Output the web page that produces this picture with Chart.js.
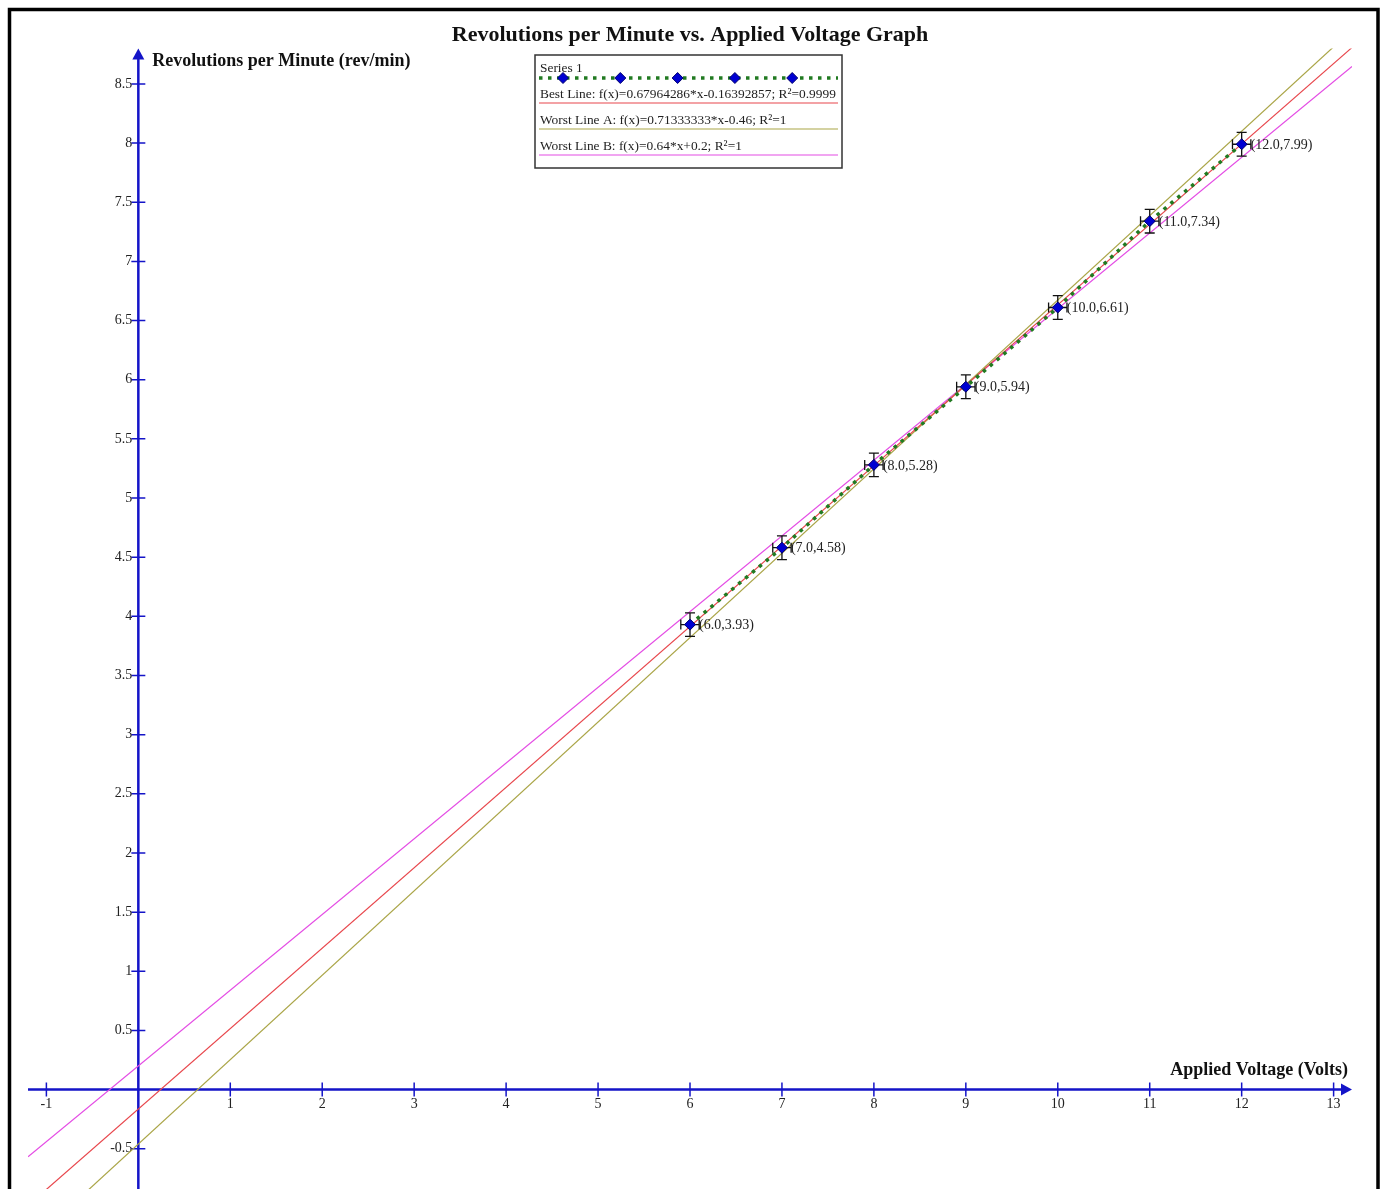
<!DOCTYPE html>
<html>
<head>
<meta charset="utf-8">
<script src="https://cdn.jsdelivr.net/npm/chart.js@4.4.1/dist/chart.umd.min.js"></script>
<style>
html, body { margin: 0; padding: 0; background: #fff; }
</style>
</head>
<body>
<canvas id="canvas" width="1381" height="1189"></canvas>
<script>
// measured data (voltage in volts, speed in rev/min)
const voltage = [6, 7, 8, 9, 10, 11, 12];
const rpm = [3.93, 4.58, 5.28, 5.94, 6.61, 7.34, 7.99];
const xError = 0.1;
const yError = 0.1;

// fitted lines, as given in the legend
const lineLabels = [
    'Best Line: f(x)=0.67964286*x-0.16392857; R\u00b2=0.9999',
    'Worst Line A: f(x)=0.71333333*x-0.46; R\u00b2=1',
    'Worst Line B: f(x)=0.64*x+0.2; R\u00b2=1'
];
const lineSlopes = [0.67964286, 0.71333333, 0.64];
const lineIntercepts = [-0.16392857, -0.46, 0.2];
const lineColors = ['#e8474d', '#aaa547', '#e44ce4'];

const xTicks = [-1, 1, 2, 3, 4, 5, 6, 7, 8, 9, 10, 11, 12, 13];
const yTicks = [-0.5, 0.5, 1, 1.5, 2, 2.5, 3, 3.5, 4, 4.5, 5, 5.5, 6, 6.5, 7, 7.5, 8, 8.5];

const X_MIN = -1.2, X_MAX = 13.2;
const Y_MIN = -0.84, Y_MAX = 8.8;

const FONT = '"Liberation Serif", "Times New Roman", serif';
const AXIS_BLUE = '#1414c8';

// white page + black frame
const framePlugin = {
    id: 'frame',
    beforeDraw(chart) {
        const c = chart.ctx;
        c.save();
        c.fillStyle = '#fff';
        c.fillRect(0, 0, chart.width, chart.height);
        c.strokeStyle = '#000';
        c.lineWidth = 3.5;
        c.beginPath();
        c.moveTo(9.5, chart.height + 5);
        c.lineTo(9.5, 9.5);
        c.lineTo(1378, 9.5);
        c.lineTo(1378, chart.height + 5);
        c.stroke();
        c.restore();
    }
};

// axes through the origin, with arrows
const axesPlugin = {
    id: 'axesThroughOrigin',
    beforeDatasetsDraw(chart) {
        const c = chart.ctx, xs = chart.scales.x, ys = chart.scales.y, a = chart.chartArea;
        const x0 = xs.getPixelForValue(0), y0 = ys.getPixelForValue(0);
        c.save();
        c.strokeStyle = AXIS_BLUE;
        c.fillStyle = AXIS_BLUE;
        c.lineWidth = 2.5;
        c.beginPath();
        c.moveTo(a.left, y0); c.lineTo(a.right - 8, y0);
        c.moveTo(x0, a.bottom); c.lineTo(x0, a.top + 8);
        c.stroke();
        c.beginPath();
        c.moveTo(a.right, y0); c.lineTo(a.right - 11, y0 - 6); c.lineTo(a.right - 11, y0 + 6);
        c.closePath(); c.fill();
        c.beginPath();
        c.moveTo(x0, a.top); c.lineTo(x0 - 6, a.top + 11); c.lineTo(x0 + 6, a.top + 11);
        c.closePath(); c.fill();

        c.lineWidth = 1.5;
        c.beginPath();
        xTicks.forEach(v => {
            const p = xs.getPixelForValue(v);
            c.moveTo(p, y0 - 7); c.lineTo(p, y0 + 7);
        });
        yTicks.forEach(v => {
            const p = ys.getPixelForValue(v);
            c.moveTo(x0 - 7, p); c.lineTo(x0 + 7, p);
        });
        c.stroke();

        c.fillStyle = '#222';
        c.font = '14px ' + FONT;
        c.textAlign = 'center';
        c.textBaseline = 'top';
        xTicks.forEach(v => c.fillText(String(v), xs.getPixelForValue(v), y0 + 8));
        c.textAlign = 'right';
        c.textBaseline = 'middle';
        yTicks.forEach(v => c.fillText(String(v), x0 - 6, ys.getPixelForValue(v)));

        c.fillStyle = '#111';
        c.font = 'bold 18px ' + FONT;
        c.textAlign = 'left';
        c.fillText('Revolutions per Minute (rev/min)', x0 + 14, a.top + 13);
        c.textAlign = 'right';
        c.fillText('Applied Voltage (Volts)', a.right - 4, y0 - 19);
        c.restore();
    }
};

// error bars under the Series 1 markers
const errorBarPlugin = {
    id: 'errorBars',
    beforeDatasetDraw(chart, args) {
        if (args.index !== 0) return;
        const c = chart.ctx, xs = chart.scales.x, ys = chart.scales.y;
        c.save();
        c.strokeStyle = '#111';
        c.lineWidth = 1.3;
        c.beginPath();
        voltage.forEach((v, i) => {
            const px = xs.getPixelForValue(v), py = ys.getPixelForValue(rpm[i]);
            const top = ys.getPixelForValue(rpm[i] + yError), bot = ys.getPixelForValue(rpm[i] - yError);
            const lft = xs.getPixelForValue(v - xError), rgt = xs.getPixelForValue(v + xError);
            c.moveTo(px, top); c.lineTo(px, bot);
            c.moveTo(px - 5, top); c.lineTo(px + 5, top);
            c.moveTo(px - 5, bot); c.lineTo(px + 5, bot);
            c.moveTo(lft, py); c.lineTo(rgt, py);
            c.moveTo(lft, py - 5); c.lineTo(lft, py + 5);
            c.moveTo(rgt, py - 5); c.lineTo(rgt, py + 5);
        });
        c.stroke();
        c.restore();
    }
};

// "(x,y)" labels next to the points
const pointLabelPlugin = {
    id: 'pointLabels',
    afterDatasetsDraw(chart) {
        const c = chart.ctx, xs = chart.scales.x, ys = chart.scales.y;
        c.save();
        c.fillStyle = '#222';
        c.font = '14px ' + FONT;
        c.textAlign = 'left';
        c.textBaseline = 'middle';
        voltage.forEach((v, i) => {
            c.fillText('(' + v.toFixed(1) + ',' + rpm[i].toFixed(2) + ')',
                xs.getPixelForValue(v) + 9, ys.getPixelForValue(rpm[i]) + 1);
        });
        c.restore();
    }
};

// boxed legend: text on top, line sample under it
const legendPlugin = {
    id: 'boxLegend',
    afterDraw(chart) {
        const c = chart.ctx;
        const L = 535, T = 55, W = 307, H = 113;
        c.save();
        c.fillStyle = '#fff';
        c.fillRect(L, T, W, H);
        c.strokeStyle = '#333';
        c.lineWidth = 1.5;
        c.strokeRect(L, T, W, H);

        c.font = '13.4px ' + FONT;
        c.textAlign = 'left';
        c.textBaseline = 'middle';
        chart.data.datasets.forEach((ds, i) => {
            const ty = T + 13 + i * 26;
            const ly = ty + (i === 0 ? 10 : 9);
            c.fillStyle = '#222';
            c.fillText(ds.label, L + 5, ty);
            c.strokeStyle = ds.borderColor;
            c.lineWidth = ds.borderWidth;
            c.setLineDash(ds.borderDash || []);
            c.beginPath();
            c.moveTo(L + 4, ly); c.lineTo(L + W - 4, ly);
            c.stroke();
            c.setLineDash([]);
            if (i === 0) {
                for (let k = 0; k < 5; k++) {
                    const dx = L + 28 + k * 57.3;
                    c.fillStyle = ds.pointBackgroundColor;
                    c.strokeStyle = ds.pointBorderColor;
                    c.lineWidth = 1;
                    c.beginPath();
                    c.moveTo(dx, ly - 5.5); c.lineTo(dx + 5.5, ly); c.lineTo(dx, ly + 5.5); c.lineTo(dx - 5.5, ly);
                    c.closePath(); c.fill(); c.stroke();
                }
            }
        });
        c.restore();
    }
};

const datasets = [{
    label: 'Series 1',
    data: voltage.map((v, i) => ({ x: v, y: rpm[i] })),
    showLine: true,
    borderColor: '#217a21',
    borderWidth: 3.5,
    borderDash: [3.5, 5.5],
    pointStyle: 'rectRot',
    pointRadius: 5.5,
    pointBackgroundColor: '#0000d2',
    pointBorderColor: '#00006e',
    pointBorderWidth: 1
}];
lineLabels.forEach((name, i) => {
    datasets.push({
        label: name,
        data: [
            { x: X_MIN, y: lineSlopes[i] * X_MIN + lineIntercepts[i] },
            { x: X_MAX, y: lineSlopes[i] * X_MAX + lineIntercepts[i] }
        ],
        showLine: true,
        borderColor: lineColors[i],
        borderWidth: 1.2,
        pointRadius: 0
    });
});

const chart = new Chart(document.getElementById('canvas').getContext('2d'), {
    type: 'scatter',
    data: { datasets: datasets },
    options: {
        responsive: false,
        animation: false,
        layout: { autoPadding: false, padding: { left: 28, right: 29, top: 0, bottom: 0 } },
        scales: {
            x: { type: 'linear', min: X_MIN, max: X_MAX, display: false },
            y: { type: 'linear', min: Y_MIN, max: Y_MAX, display: false }
        },
        plugins: {
            legend: { display: false },
            tooltip: { enabled: false },
            title: {
                display: true,
                text: 'Revolutions per Minute vs. Applied Voltage Graph',
                color: '#111',
                font: { family: FONT, size: 22, weight: 'bold', lineHeight: 1.2 },
                padding: { top: 22, bottom: 0 }
            }
        }
    },
    plugins: [framePlugin, axesPlugin, errorBarPlugin, pointLabelPlugin, legendPlugin]
});
</script>
</body>
</html>
